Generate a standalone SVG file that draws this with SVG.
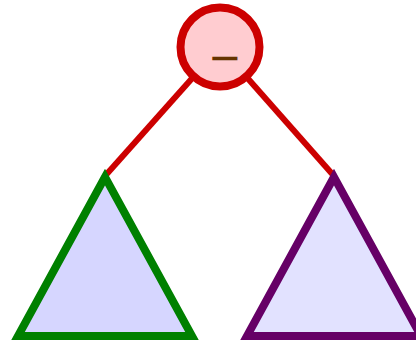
<svg xmlns="http://www.w3.org/2000/svg" width="416" height="344" viewBox="0 0 416 344">
<style>
.edge{stroke:#cc0000;stroke-width:6;fill:none}
.tri{stroke-width:8;stroke-linejoin:miter}
</style>
<rect width="416" height="344" fill="#ffffff"/>
<g id="connectors">
<line class="edge" x1="220" y1="47" x2="105" y2="176"/>
<line class="edge" x1="220" y1="47" x2="334" y2="176"/>
</g>
<g id="root">
<circle cx="220" cy="47" r="39.5" fill="#ffccd0" stroke="#cc0000" stroke-width="8"/>
<text x="225" y="70.5" font-family="DejaVu Sans, sans-serif" font-size="40" fill="#663300" text-anchor="middle">−</text>
</g>
<g id="left">
<polygon class="tri" points="105,177 18,336 192,336" fill="#d6d6ff" stroke="#008000"/>
</g>
<g id="right">
<polygon class="tri" points="334,177 247,336 421,336" fill="#e2e2ff" stroke="#660066"/>
</g>
</svg>
